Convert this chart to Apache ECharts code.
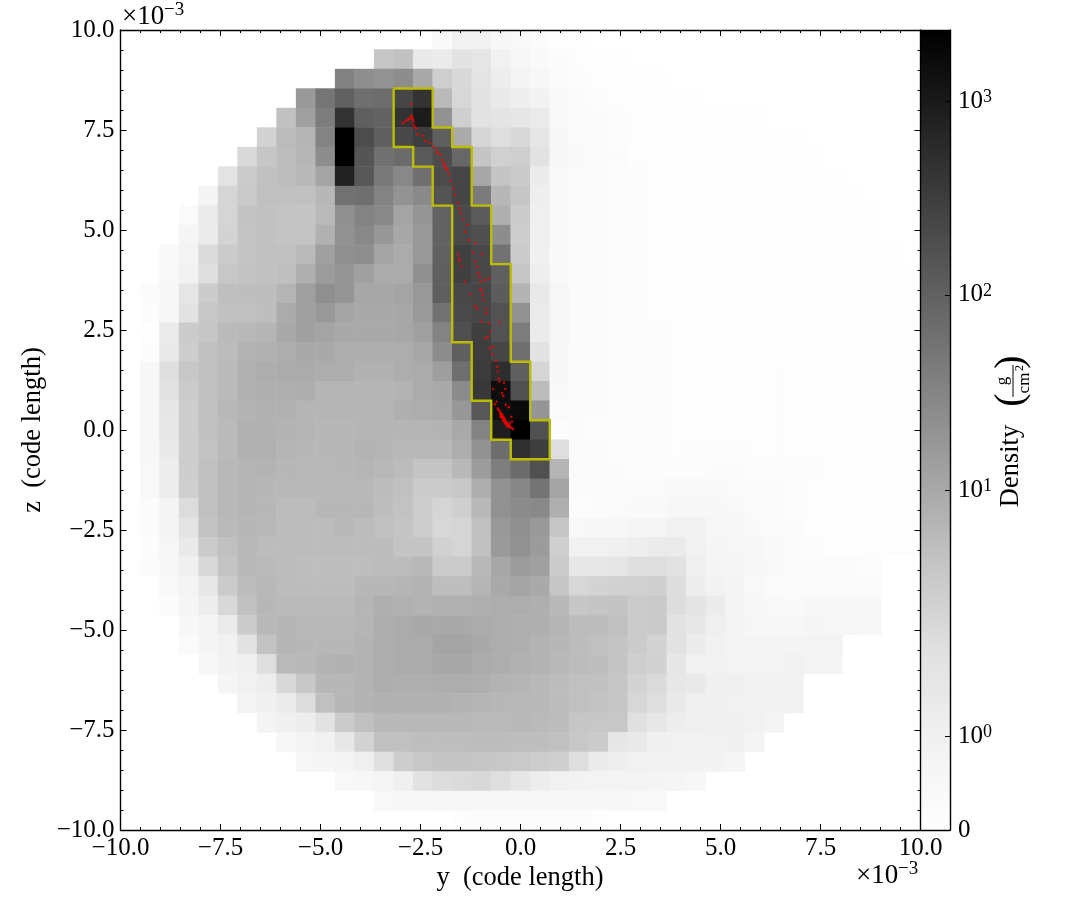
<!DOCTYPE html>
<html>
<head>
<meta charset="utf-8">
<style>html,body{margin:0;padding:0;background:#fff}#c{width:1085px;height:920px}</style>
<script src="https://cdn.jsdelivr.net/npm/echarts@6/dist/echarts.min.js"></script>
</head>
<body>
<div id="c"></div>
<script>
// Density, as a level on the colour scale (0 = none, 255 = peak). One list per image row, top row first.
const row00=[0,0,0,0,0,0,0,0,0,0,0,0,0,0,0,0,6,14,15,9,6,4,2,1,0,0,0,0,0,0,0,0,0,0,0,0,0,0,0,0,0];
const row01=[0,0,0,0,0,0,0,0,0,0,0,0,0,61,66,23,21,31,28,15,10,6,4,2,1,1,0,0,0,0,0,0,0,0,0,0,0,0,0,0,0];
const row02=[0,0,0,0,0,0,0,0,0,0,0,128,116,111,117,91,52,41,29,19,12,9,5,3,2,1,1,1,0,0,0,0,0,0,0,0,0,0,0,0,0];
const row03=[0,0,0,0,0,0,0,0,0,106,140,159,145,147,185,204,74,42,31,23,18,14,6,4,3,2,1,1,1,1,0,0,0,0,0,0,0,0,0,0,0];
const row04=[0,0,0,0,0,0,0,0,66,99,132,204,161,157,204,227,112,51,31,29,27,22,7,5,4,3,2,1,1,1,1,1,1,0,0,0,0,0,0,0,0];
const row05=[0,0,0,0,0,0,0,48,72,79,127,255,178,161,183,194,161,90,44,35,41,27,8,5,4,3,2,1,1,1,1,1,1,1,1,0,0,0,0,0,0];
const row06=[0,0,0,0,0,0,40,61,70,78,117,255,170,144,149,165,179,153,62,50,52,31,9,6,5,4,2,1,1,1,1,1,1,1,1,1,0,0,0,0,0];
const row07=[0,0,0,0,0,30,55,66,70,75,95,221,167,136,122,145,180,185,93,63,56,21,6,5,4,3,3,2,1,1,1,1,1,1,1,1,1,0,0,0,0];
const row08=[0,0,0,0,12,45,57,67,67,67,76,143,145,127,111,121,171,186,134,76,61,18,6,5,4,3,3,2,2,1,1,1,1,1,1,1,1,1,0,0,0];
const row09=[0,0,0,5,22,45,64,66,63,62,74,114,127,122,95,110,157,181,163,85,55,17,6,5,4,3,3,2,2,1,1,1,1,1,1,1,1,1,1,0,0];
const row10=[0,0,0,11,21,47,63,66,63,63,83,113,122,108,93,107,157,181,176,117,53,17,6,5,4,3,3,2,2,1,1,1,1,1,1,1,1,1,1,0,0];
const row11=[0,0,6,13,39,55,63,67,67,74,99,115,116,95,89,107,159,191,183,143,55,16,6,5,4,3,3,2,2,1,1,1,1,1,1,1,1,1,1,1,0];
const row12=[0,0,7,14,34,59,64,66,68,84,103,110,99,89,89,114,161,191,183,161,61,18,7,5,4,3,3,2,2,2,1,1,1,1,1,1,1,1,1,1,1];
const row13=[0,4,8,28,54,68,69,69,80,100,115,110,93,93,95,107,161,183,185,163,81,23,10,5,4,3,3,2,2,2,1,1,1,1,1,1,1,1,1,1,1];
const row14=[0,3,9,31,59,66,67,69,89,99,107,95,91,91,93,105,143,181,185,173,113,21,10,5,4,3,3,2,2,2,1,1,1,1,1,1,1,1,1,1,1];
const row15=[0,1,21,55,61,73,75,79,91,99,95,91,91,91,93,99,127,176,191,173,133,21,10,5,4,3,3,3,2,2,2,2,2,1,1,1,1,1,1,1,1];
const row16=[0,3,23,53,67,71,81,83,87,91,91,87,87,87,87,93,117,161,194,185,145,31,9,5,4,3,3,3,2,2,2,2,2,1,1,1,1,1,1,1,1];
const row17=[0,9,35,59,67,73,83,87,89,89,87,87,83,83,87,89,101,145,195,209,161,45,9,5,4,3,3,3,2,2,2,2,2,2,2,1,1,1,1,1,1];
const row18=[0,9,31,55,67,73,83,85,85,87,79,79,79,79,81,89,91,119,199,241,175,71,7,5,4,3,3,3,2,2,2,2,2,2,2,1,1,1,1,1,1];
const row19=[0,9,27,53,67,75,81,83,83,79,79,79,79,79,85,87,89,108,167,240,245,110,5,4,4,3,3,3,2,2,2,2,2,2,2,2,1,1,1,1,1];
const row20=[0,8,25,53,67,73,83,83,81,79,77,77,79,79,79,79,81,91,127,225,255,175,3,4,3,3,3,3,2,2,2,2,2,2,2,2,2,2,1,1,1];
const row21=[0,8,23,53,65,73,83,83,79,77,77,77,81,79,75,75,75,87,112,147,207,193,35,4,4,3,3,3,2,3,3,3,2,2,2,2,2,2,2,1,1];
const row22=[0,7,19,53,67,75,79,81,77,75,75,77,79,75,71,63,63,75,103,131,149,175,79,5,4,4,3,3,3,3,4,4,3,3,3,3,2,2,2,2,2];
const row23=[0,7,19,51,67,75,79,77,75,75,75,75,75,71,67,55,55,59,87,113,123,141,95,4,4,4,5,5,6,6,6,5,4,4,3,2,2,2,2,2,2];
const row24=[0,4,12,37,67,75,79,77,71,71,77,77,77,69,65,53,45,51,75,113,119,121,85,3,4,5,6,6,8,8,8,7,5,5,3,2,2,2,2,2,2];
const row25=[0,4,12,29,64,73,77,75,71,71,71,75,71,67,63,53,43,45,67,107,115,106,61,7,8,9,11,11,15,15,10,8,6,5,4,2,2,2,2,2,2];
const row26=[0,3,10,23,55,67,75,71,71,71,71,71,71,71,63,63,49,45,67,105,113,104,51,15,15,16,18,22,22,15,11,10,8,6,4,3,2,2,2,2,2];
const row27=[0,4,9,16,41,63,75,73,71,69,69,69,69,71,71,75,55,55,75,93,103,99,55,25,26,28,34,35,31,17,12,11,9,7,4,4,4,4,3,0,0];
const row28=[0,0,7,12,25,55,71,75,71,71,71,71,77,77,79,81,69,69,79,91,95,91,61,43,47,49,50,51,36,19,14,12,7,5,5,5,5,5,4,0,0];
const row29=[0,0,4,11,19,41,67,77,73,73,73,73,79,85,83,81,83,83,85,87,87,85,75,61,63,64,55,57,36,29,21,12,9,7,6,9,9,9,8,0,0];
const row30=[0,0,0,8,13,21,55,75,79,75,75,75,79,87,89,91,91,91,89,87,85,85,79,71,71,67,55,57,31,25,17,13,10,9,8,11,10,10,9,0,0];
const row31=[0,0,0,5,12,15,31,65,79,77,77,77,81,87,89,89,95,95,91,87,85,81,77,71,67,63,55,47,31,21,15,13,12,12,12,13,13,0,0,0,0];
const row32=[0,0,0,0,9,14,16,35,73,75,81,83,81,87,89,89,93,93,89,87,83,81,75,71,69,63,52,49,27,15,14,13,13,13,15,13,12,0,0,0,0];
const row33=[0,0,0,0,0,11,15,19,41,59,77,77,81,87,85,85,87,87,85,81,79,75,71,67,66,61,47,39,25,23,16,16,15,15,15,0,0,0,0,0,0];
const row34=[0,0,0,0,0,0,13,16,21,37,67,77,81,83,83,83,83,81,79,77,75,75,71,67,64,61,43,35,23,17,16,15,15,15,15,0,0,0,0,0,0];
const row35=[0,0,0,0,0,0,0,12,16,19,31,55,67,75,75,75,75,75,73,73,75,73,71,61,59,59,33,25,19,17,16,16,15,13,0,0,0,0,0,0,0];
const row36=[0,0,0,0,0,0,0,0,10,12,15,25,47,67,67,69,69,69,71,71,69,69,67,59,55,27,23,16,15,15,15,16,12,0,0,0,0,0,0,0,0];
const row37=[0,0,0,0,0,0,0,0,0,10,11,12,17,33,53,59,63,63,61,59,57,53,51,35,21,18,15,14,14,14,14,11,0,0,0,0,0,0,0,0,0];
const row38=[0,0,0,0,0,0,0,0,0,0,0,7,9,11,17,31,37,39,41,35,27,19,15,14,13,13,13,12,11,9,0,0,0,0,0,0,0,0,0,0,0];
const row39=[0,0,0,0,0,0,0,0,0,0,0,0,0,7,8,9,10,10,10,10,10,9,9,9,8,8,7,7,0,0,0,0,0,0,0,0,0,0,0,0,0];
const row40=[0,0,0,0,0,0,0,0,0,0,0,0,0,0,0,0,0,2,3,3,3,3,3,3,2,0,0,0,0,0,0,0,0,0,0,0,0,0,0,0,0];
const densityRows=[row00,row01,row02,row03,row04,row05,row06,row07,row08,row09,row10,row11,row12,row13,row14,row15,row16,row17,row18,row19,row20,row21,row22,row23,row24,row25,row26,row27,row28,row29,row30,row31,row32,row33,row34,row35,row36,row37,row38,row39,row40];

// Red particles, in axis units of 1e-3 [y, z].
const particles=[[-2.73,8.15],[-2.95,7.67],[-2.88,7.71],[-2.83,7.75],[-2.79,7.77],[-2.75,7.79],[-2.71,7.83],[-2.73,7.86],[-2.69,7.77],[-2.68,7.71],[-2.67,7.63],[-2.64,7.57],[-2.60,7.54],[-2.58,7.39],[-2.44,7.36],[-2.38,7.23],[-2.27,7.18],[-2.17,7.08],[-2.10,7.00],[-2.08,6.93],[-2.00,6.88],[-1.96,6.75],[-1.92,6.67],[-1.88,6.58],[-1.83,6.50],[-1.90,6.62],[-1.86,6.54],[-1.79,6.40],[-1.75,6.23],[-1.68,6.04],[-1.63,5.88],[-1.56,5.68],[-1.52,5.54],[-1.50,5.42],[-1.43,5.27],[-1.32,5.13],[-1.38,4.96],[-1.29,4.75],[-1.13,4.67],[-1.56,4.39],[-1.54,4.29],[-1.52,4.23],[-1.18,4.44],[-0.96,4.40],[-1.13,4.21],[-1.08,4.08],[-1.48,4.08],[-1.06,3.92],[-1.02,3.83],[-1.00,3.71],[-1.38,3.71],[-0.88,3.75],[-0.78,3.79],[-1.00,3.52],[-1.25,3.40],[-0.98,3.50],[-0.94,3.38],[-0.92,3.25],[-1.13,3.10],[-1.08,3.04],[-0.85,3.03],[-0.85,2.92],[-0.79,2.67],[-0.53,2.69],[-0.98,2.71],[-0.75,2.46],[-0.82,2.33],[-0.88,2.29],[-0.77,2.04],[-0.68,2.08],[-0.71,1.90],[-0.61,1.73],[-0.58,1.58],[-0.57,1.46],[-0.54,1.29],[-0.53,1.21],[-0.41,1.18],[-0.38,1.03],[-0.69,1.02],[-0.46,0.92],[-0.43,0.85],[-0.60,0.71],[-0.64,0.64],[-0.37,0.63],[-0.29,0.57],[-0.57,0.54],[-0.52,0.46],[-0.50,0.39],[-0.48,0.32],[-0.43,0.25],[-0.39,0.18],[-0.33,0.13],[-0.25,0.06],[-0.18,0.02],[-0.23,0.33],[-0.21,0.21],[-0.27,0.17],[-0.55,0.50],[-0.50,0.42],[-0.47,0.36],[-0.45,0.30],[-0.42,0.22],[-0.37,0.14],[-0.33,0.09],[-0.30,0.08],[-0.22,0.05],[-0.27,0.10],[-0.44,0.34],[-0.40,0.27],[-0.36,0.20],[-0.50,0.34],[-0.46,0.40],[-0.41,0.31],[-0.38,0.24],[-0.34,0.17],[-0.30,0.13]];

// Yellow contour, as [column edge, row edge] of the image grid.
const contourEdges=[[14,3],[16,3],[16,5],[17,5],[17,6],[18,6],[18,9],[19,9],[19,12],[20,12],[20,17],[21,17],[21,20],[22,20],[22,22],[20,22],[20,21],[19,21],[19,19],[18,19],[18,16],[17,16],[17,9],[16,9],[16,7],[15,7],[15,6],[14,6],[14,3]];

// Colour bar: tick positions as percent of the bar, labels, and the grey ramp.
const cbarTicks=[0,11.75,42.5,66.9,91.1];
const cbarLabels=['0','{b|10}{s|0}','{b|10}{s|1}','{b|10}{s|2}','{b|10}{s|3}'];
const cbarStopPos=[0,11.75,22.5,33.75,42.5,66.9,91.1,100];
const cbarStopGrey=[254,240,224,195,168,97,26,0];

const cols=densityRows[0].map((_,i)=>String(i));
const rows=densityRows.map((_,i)=>String(i));
const heat=[];
densityRows.forEach((r,j)=>r.forEach((v,i)=>{if(v>0)heat.push([i,j,v]);}));
const edgeX=k=>-10+k*20/41, edgeZ=r=>10-r*20/41;
const contour=contourEdges.map(p=>[edgeX(p[0]),edgeZ(p[1])]);

const FONT='"Liberation Serif", serif';
const tickFmt=v=>{const a=Math.abs(v).toFixed(1);return (v<-1e-9?'\u2212':'')+a;};
const valueAxis=(o)=>Object.assign({type:'value',min:-10,max:10,interval:2.5,gridIndex:1,z:6,
  axisLine:{show:true,onZero:false,lineStyle:{color:'#000',width:1.4}},
  axisTick:{show:true,inside:true,length:6,lineStyle:{color:'#000',width:1}},
  minorTick:{show:true,splitNumber:5,length:3,lineStyle:{color:'#000',width:1}},
  splitLine:{show:false}},o);
const noLabel={show:false};
const label={show:true,color:'#000',fontFamily:FONT,fontSize:25,formatter:tickFmt,showMinLabel:true,showMaxLabel:true,hideOverlap:false};

const option={
  animation:false,
  backgroundColor:'#fff',
  textStyle:{fontFamily:FONT},
  grid:[
    {left:120.5,top:30,width:800,height:800},
    {left:120.5,top:30,width:800,height:800},
    {left:921,top:30,width:29,height:800}
  ],
  xAxis:[
    {type:'category',gridIndex:0,data:cols,show:false},
    valueAxis({position:'bottom',axisLabel:Object.assign({},label,{margin:6})}),
    valueAxis({position:'top',axisLabel:noLabel}),
    {type:'category',gridIndex:2,data:['bar'],axisLine:{show:true,onZero:false,lineStyle:{color:'#000',width:1.4}},axisTick:{show:false},axisLabel:{show:false},position:'top',z:6},
    {type:'category',gridIndex:2,data:['bar'],axisLine:{show:true,onZero:false,lineStyle:{color:'#000',width:1.4}},axisTick:{show:false},axisLabel:{show:false},position:'bottom',z:6}
  ],
  yAxis:[
    {type:'category',gridIndex:0,data:rows,inverse:true,show:false},
    valueAxis({position:'left',axisLabel:Object.assign({},label,{margin:6})}),
    valueAxis({position:'right',axisLabel:noLabel}),
    {type:'value',gridIndex:2,position:'right',min:0,max:100,z:6,
      axisLine:{show:true,onZero:false,lineStyle:{color:'#000',width:1.4}},
      axisTick:{show:true,inside:true,length:5,customValues:cbarTicks.slice(1),lineStyle:{color:'#000',width:1}},
      minorTick:{show:false},splitLine:{show:false},
      axisLabel:{show:true,margin:8,color:'#000',fontFamily:FONT,fontSize:25,customValues:cbarTicks,showMinLabel:true,showMaxLabel:true,
        formatter:(v)=>{const i=cbarTicks.indexOf(v);return i<0?'':cbarLabels[i];},
        rich:{b:{fontFamily:FONT,fontSize:25,color:'#000'},s:{fontFamily:FONT,fontSize:18,color:'#000',verticalAlign:'top',padding:[0,0,8,0]}}}},
    {type:'value',gridIndex:2,position:'left',min:0,max:100,show:false}
  ],
  visualMap:[{show:false,type:'continuous',min:0,max:255,dimension:2,seriesIndex:0,inRange:{color:['#ffffff','rgb(175,175,175)','rgb(85,85,85)','#000000']}}],
  series:[
    {type:'heatmap',xAxisIndex:0,yAxisIndex:0,data:heat,itemStyle:{borderWidth:0},progressive:0,z:1},
    {type:'line',xAxisIndex:1,yAxisIndex:1,data:contour,showSymbol:false,symbol:'none',lineStyle:{color:'#bdbd00',width:2.4,join:'miter'},z:3,silent:true},
    {type:'scatter',xAxisIndex:1,yAxisIndex:1,data:particles,symbol:'rect',symbolSize:2.2,itemStyle:{color:'#ff0000'},z:4,silent:true},
    {type:'bar',xAxisIndex:3,yAxisIndex:3,data:[100],barWidth:'100%',silent:true,z:1,
      itemStyle:{color:{type:'linear',x:0,y:1,x2:0,y2:0,colorStops:cbarStopPos.map((p,i)=>({offset:p/100,color:`rgb(${cbarStopGrey[i]},${cbarStopGrey[i]},${cbarStopGrey[i]})`}))}}}
  ],
  graphic:[
    {type:'text',x:520,y:878,style:{text:'y  (code length)',font:'26.5px '+FONT,fill:'#000',textAlign:'center',textVerticalAlign:'middle'}},
    {type:'text',x:33,y:430,rotation:Math.PI/2,style:{text:'z  (code length)',font:'26.5px '+FONT,fill:'#000',textAlign:'center',textVerticalAlign:'middle'}},
    {type:'text',x:122,y:17,style:{text:'\u00d710',font:'27px '+FONT,fill:'#000',textVerticalAlign:'middle'}},
    {type:'text',x:164,y:10,style:{text:'\u22123',font:'19px '+FONT,fill:'#000',textVerticalAlign:'middle'}},
    {type:'text',x:856,y:876,style:{text:'\u00d710',font:'27px '+FONT,fill:'#000',textVerticalAlign:'middle'}},
    {type:'text',x:898,y:869,style:{text:'\u22123',font:'19px '+FONT,fill:'#000',textVerticalAlign:'middle'}},
    {type:'text',x:1011,y:466,rotation:Math.PI/2,style:{text:'Density',font:'26.5px '+FONT,fill:'#000',textAlign:'center',textVerticalAlign:'middle'}},
    {type:'text',x:1011,y:400,rotation:Math.PI/2,style:{text:'(',font:'40px '+FONT,fill:'#000',textAlign:'center',textVerticalAlign:'middle'}},
    {type:'text',x:1011,y:362,rotation:Math.PI/2,style:{text:')',font:'40px '+FONT,fill:'#000',textAlign:'center',textVerticalAlign:'middle'}},
    {type:'text',x:1003,y:381,rotation:Math.PI/2,style:{text:'g',font:'17px '+FONT,fill:'#000',textAlign:'center',textVerticalAlign:'middle'}},
    {type:'line',shape:{x1:1013,y1:365,x2:1013,y2:397},style:{stroke:'#000',lineWidth:1}},
    {type:'text',x:1025,y:383,rotation:Math.PI/2,style:{text:'cm',font:'17px '+FONT,fill:'#000',textAlign:'center',textVerticalAlign:'middle'}},
    {type:'text',x:1020,y:368,rotation:Math.PI/2,style:{text:'2',font:'12px '+FONT,fill:'#000',textAlign:'center',textVerticalAlign:'middle'}}
  ]
};
echarts.init(document.getElementById('c'),null,{renderer:'canvas'}).setOption(option);
</script>
</body>
</html>
